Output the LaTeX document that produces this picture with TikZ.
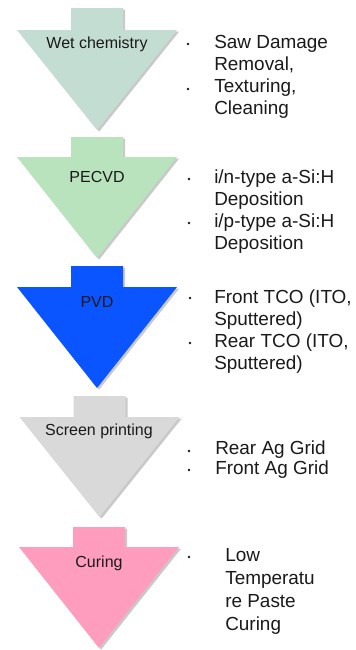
\documentclass[tikz,border=0pt]{standalone}
\usepackage{fontspec}
\setmainfont{Liberation Sans}
\usetikzlibrary{shadows}
\definecolor{wetc}{HTML}{C4DDD3}
\definecolor{pecc}{HTML}{B8E3BD}
\definecolor{pvdc}{HTML}{0A55FF}
\definecolor{scrc}{HTML}{D9D9D9}
\definecolor{curc}{HTML}{FF9DBE}
\definecolor{txtc}{HTML}{1A1A1A}
\newcommand{\procarrow}[5]{%
  \path[arrowshape,fill=#5] ({#1-26},#2) -- ({#1+26},#2) -- ({#1+26},#3) -- ({#1+80},#3)
    -- (#1,#4) -- ({#1-80},#3) -- ({#1-26},#3) -- cycle;}
\begin{document}
\begin{tikzpicture}[x=0.75pt,y=-0.75pt,
  arrowshape/.style={draw=none,drop shadow={shadow xshift=1.6pt,shadow yshift=-1.2pt,opacity=0.35,fill=black!60}},
  arrowlabel/.style={inner sep=0pt,font=\fontsize{12}{14}\selectfont,text=txtc},
  itemtext/.style={anchor=base west,inner sep=0pt,font=\fontsize{14.2}{17}\selectfont,text=txtc},
  bulletdot/.style={circle,fill=txtc,inner sep=0pt,minimum size=2.2pt}]
\useasboundingbox (0,0) rectangle (356,650);
\fill[white] (0,0) rectangle (356,650);
% arrows
\procarrow{97}{8}{30}{130}{wetc}
\procarrow{97}{137}{157}{258}{pecc}
\procarrow{97}{266}{287}{388}{pvdc}
\procarrow{99.5}{396}{417}{517}{scrc}
\procarrow{99}{527}{547}{648}{curc}
% labels
\node[arrowlabel] (l1) at (97,44) {Wet chemistry};
\node[arrowlabel] (l2) at (97,177) {PECVD};
\node[arrowlabel] (l3) at (97,302) {PVD};
\node[arrowlabel] (l4) at (99,431) {Screen printing};
\node[arrowlabel] (l5) at (99,563) {Curing};
% block 1
\node[itemtext] (t1a) at (214,48) {Saw Damage};
\node[itemtext] (t1b) at (214,70) {Removal,};
\node[itemtext] (t1c) at (214,92) {Texturing,};
\node[itemtext] (t1d) at (214,114) {Cleaning};
\node[bulletdot] (b1a) at (188,44) {};
\node[bulletdot] (b1b) at (188,89) {};
% block 2
\node[itemtext] (t2a) at (214,183) {i/n-type a-Si:H};
\node[itemtext] (t2b) at (214,205) {Deposition};
\node[itemtext] (t2c) at (214,227) {i/p-type a-Si:H};
\node[itemtext] (t2d) at (214,249) {Deposition};
\node[bulletdot] (b2a) at (189,179) {};
\node[bulletdot] (b2b) at (189,223) {};
% block 3
\node[itemtext] (t3a) at (214,303) {Front TCO (ITO,};
\node[itemtext] (t3b) at (214,325) {Sputtered)};
\node[itemtext] (t3c) at (214,347) {Rear TCO (ITO,};
\node[itemtext] (t3d) at (214,369) {Sputtered)};
\node[bulletdot] (b3a) at (190,298) {};
\node[bulletdot] (b3b) at (190,343) {};
% block 4
\node[itemtext] (t4a) at (215,454) {Rear Ag Grid};
\node[itemtext] (t4b) at (215,474) {Front Ag Grid};
\node[bulletdot] (b4a) at (189,451) {};
\node[bulletdot] (b4b) at (189,470) {};
% block 5
\node[itemtext] (t5a) at (225,561) {Low};
\node[itemtext] (t5b) at (225,584) {Temperatu};
\node[itemtext] (t5c) at (225,607) {re Paste};
\node[itemtext] (t5d) at (225,630) {Curing};
\node[bulletdot] (b5) at (189,557) {};
\end{tikzpicture}
\end{document}
